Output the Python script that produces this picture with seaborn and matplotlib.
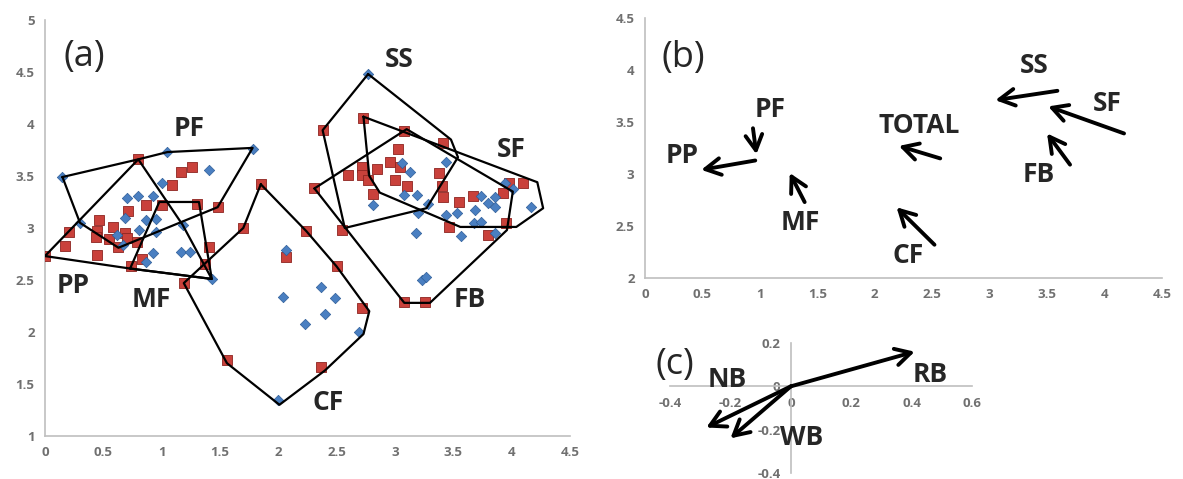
import matplotlib
matplotlib.use("Agg")
import matplotlib.pyplot as plt
import seaborn as sns
import pandas as pd

sns.set_style("white")
plt.rcParams['font.family'] = ['Open Sans', 'DejaVu Sans']
plt.rcParams['font.weight'] = 'bold'

# ---- panel (a): scores of the two groups ----
red_x = [0.00, 0.80, 1.17, 1.26, 1.09, 0.87, 1.00, 1.30, 1.48, 0.71, 0.46, 0.58,
         0.21, 0.45, 0.69, 0.55, 0.44, 0.70, 0.79, 0.63, 0.17, 0.45, 0.83, 0.74,
         1.41, 1.37, 1.19, 1.70, 1.85, 1.56, 2.07, 2.24, 2.50, 2.72, 2.37, 2.31,
         2.55, 2.81, 2.73, 2.38, 3.08, 3.41, 3.03, 2.85, 2.72, 2.96, 3.04, 2.72,
         2.60, 2.77, 3.00, 3.10, 3.38, 3.40, 3.41, 3.55, 3.67, 3.93, 3.98, 4.10,
         3.46, 3.80, 3.95, 3.08, 3.26]
red_y = [2.73, 3.66, 3.54, 3.59, 3.41, 3.22, 3.22, 3.23, 3.20, 3.16, 3.08, 3.01,
         2.96, 2.97, 2.95, 2.89, 2.91, 2.90, 2.87, 2.82, 2.83, 2.74, 2.70, 2.63,
         2.82, 2.65, 2.47, 3.00, 3.42, 1.73, 2.72, 2.97, 2.63, 2.23, 1.66, 3.38,
         2.98, 3.33, 4.06, 3.94, 3.93, 3.82, 3.76, 3.57, 3.59, 3.63, 3.59, 3.51,
         3.51, 3.46, 3.46, 3.40, 3.53, 3.40, 3.30, 3.25, 3.31, 3.34, 3.43, 3.43,
         3.01, 2.93, 3.05, 2.29, 2.29]

blue_x = [0.15, 1.05, 1.41, 1.00, 0.70, 0.80, 0.93, 0.30, 0.69, 0.87, 0.95, 0.95,
          0.62, 1.18, 0.81, 0.67, 0.93, 1.17, 1.24, 0.87, 1.43, 1.78, 2.07, 2.04,
          2.37, 2.49, 2.40, 2.23, 2.69, 2.00, 2.81, 2.77, 3.13, 3.06, 3.08, 3.19,
          3.28, 3.20, 3.18, 3.44, 3.44, 3.23, 3.27, 3.74, 3.80, 3.86, 3.86, 3.69,
          3.53, 3.68, 3.74, 3.57, 4.17, 3.94, 4.01, 3.86]
blue_y = [3.49, 3.73, 3.56, 3.43, 3.29, 3.31, 3.31, 3.05, 3.10, 3.08, 3.09, 2.96,
          2.93, 3.03, 2.98, 2.84, 2.76, 2.77, 2.77, 2.67, 2.51, 3.76, 2.79, 2.34,
          2.43, 2.33, 2.17, 2.08, 2.00, 1.35, 3.22, 4.48, 3.54, 3.62, 3.32, 3.32,
          3.23, 3.14, 2.95, 3.63, 3.12, 2.50, 2.53, 3.31, 3.24, 3.20, 3.30, 3.17,
          3.14, 3.05, 3.06, 2.92, 3.20, 3.43, 3.37, 2.95]

# outline of each group (hull corners)
hull_pp = [(0.00, 2.73), (0.80, 3.66), (1.18, 3.03), (1.43, 2.51), (0.73, 2.61)]
hull_pf = [(0.15, 3.49), (0.80, 3.66), (1.05, 3.73), (1.78, 3.77), (1.48, 3.20),
           (0.63, 2.81), (0.30, 3.05)]
hull_mf = [(0.73, 2.61), (0.98, 3.25), (1.32, 3.25), (1.43, 2.51)]
hull_cf = [(1.85, 3.42), (2.24, 2.97), (2.50, 2.63), (2.78, 2.20), (2.73, 1.98),
           (2.40, 1.63), (2.01, 1.30), (1.56, 1.70), (1.19, 2.47), (1.70, 3.00)]
hull_ss = [(2.77, 4.48), (3.48, 3.85), (3.54, 3.68), (3.27, 3.19), (2.57, 3.00),
           (2.38, 3.94)]
hull_sf = [(2.73, 4.07), (4.22, 3.44), (4.27, 3.19), (4.04, 3.01), (3.56, 3.01),
           (2.87, 3.34), (2.78, 3.50)]
hull_fb = [(2.31, 3.38), (3.10, 3.95), (4.01, 3.35), (3.96, 2.98), (3.30, 2.28),
           (3.08, 2.28)]
hulls = [hull_pp, hull_pf, hull_mf, hull_cf, hull_ss, hull_sf, hull_fb]

labels_a = ['PF', 'SS', 'SF', 'PP', 'MF', 'FB', 'CF']
label_a_x = [1.24, 3.04, 4.00, 0.24, 0.91, 3.64, 2.43]
label_a_y = [3.96, 4.62, 3.75, 2.45, 2.31, 2.31, 1.32]

# ---- panel (b): shift of each group (tail -> head) ----
names_b = ['PP', 'PF', 'MF', 'TOTAL', 'CF', 'SS', 'SF', 'FB']
tail_x = [0.96, 0.94, 1.39, 2.57, 2.52, 3.59, 4.17, 3.70]
tail_y = [3.13, 3.44, 2.73, 3.15, 2.32, 3.80, 3.39, 3.09]
head_x = [0.49, 0.97, 1.26, 2.21, 2.19, 3.05, 3.51, 3.50]
head_y = [3.04, 3.19, 3.01, 3.27, 2.68, 3.71, 3.65, 3.39]
label_b_x = [0.32, 1.09, 1.35, 2.39, 2.29, 3.39, 4.02, 3.43]
label_b_y = [3.18, 3.62, 2.53, 3.47, 2.22, 4.04, 3.68, 3.00]

# ---- panel (c): loading vectors ----
names_c = ['RB', 'NB', 'WB']
vec_x = [0.41, -0.28, -0.20]
vec_y = [0.16, -0.19, -0.24]
label_c_x = [0.46, -0.21, 0.035]
label_c_y = [0.055, 0.03, -0.235]

ticks_a_x = [0, 0.5, 1, 1.5, 2, 2.5, 3, 3.5, 4, 4.5]
ticks_a_y = [1, 1.5, 2, 2.5, 3, 3.5, 4, 4.5, 5]
ticks_b_y = [2, 2.5, 3, 3.5, 4, 4.5]
ticks_c_x = [-0.4, -0.2, 0, 0.2, 0.4, 0.6]
ticks_c_y = [-0.4, -0.2, 0, 0.2]

GRAY = '#707070'
AXIS = '#BFBFBF'


def fmt(v):
    return ('%g' % v)


def style_axis(ax, xt, yt):
    for s in ['top', 'right']:
        ax.spines[s].set_visible(False)
    for s in ['left', 'bottom']:
        ax.spines[s].set_color(AXIS)
        ax.spines[s].set_linewidth(1.2)
    ax.set_xticks(xt)
    ax.set_xticklabels([fmt(v) for v in xt])
    ax.set_yticks(yt)
    ax.set_yticklabels([fmt(v) for v in yt])
    ax.tick_params(axis='both', colors=AXIS, labelcolor=GRAY, labelsize=9.5,
                   length=4, width=1.2, direction='out')
    ax.set_xlabel('')
    ax.set_ylabel('')


fig = plt.figure(figsize=(11.83, 4.79), dpi=100)
ax_a = fig.add_axes([0.038, 0.0898, 0.4438, 0.8685])
ax_b = fig.add_axes([0.5452, 0.4196, 0.437, 0.5428])
ax_c = fig.add_axes([0.5664, 0.0125, 0.2553, 0.2714])

# panel (a)
df_red = pd.DataFrame({'x': red_x, 'y': red_y})
df_blue = pd.DataFrame({'x': blue_x, 'y': blue_y})
sns.scatterplot(data=df_red, x='x', y='y', ax=ax_a, marker='s', s=55,
                color='#C9413B', edgecolor='#8E2420', linewidth=0.6, zorder=3)
sns.scatterplot(data=df_blue, x='x', y='y', ax=ax_a, marker='D', s=28,
                color='#4A7FC1', edgecolor='#2E5E99', linewidth=0.5, zorder=4)
for hull in hulls:
    xs = [p[0] for p in hull] + [hull[0][0]]
    ys = [p[1] for p in hull] + [hull[0][1]]
    ax_a.plot(xs, ys, color='black', lw=1.6, zorder=5)
for t, x, y in zip(labels_a, label_a_x, label_a_y):
    ax_a.text(x, y, t, ha='center', va='center', fontsize=19, fontweight='bold')
ax_a.text(0.34, 4.64, '(a)', ha='center', va='center', fontsize=26,
          fontweight='normal')
ax_a.set_xlim(0, 4.5)
ax_a.set_ylim(1, 5)
style_axis(ax_a, ticks_a_x, ticks_a_y)

# panel (b)
arrow_kw = dict(arrowstyle='->,head_length=0.55,head_width=0.3', lw=2.8,
                color='black', mutation_scale=20, shrinkA=0, shrinkB=0)
for tx, ty, hx, hy in zip(tail_x, tail_y, head_x, head_y):
    ax_b.annotate('', xy=(hx, hy), xytext=(tx, ty), arrowprops=arrow_kw)
for t, x, y in zip(names_b, label_b_x, label_b_y):
    ax_b.text(x, y, t, ha='center', va='center', fontsize=19, fontweight='bold')
ax_b.text(0.33, 4.12, '(b)', ha='center', va='center', fontsize=26,
          fontweight='normal')
ax_b.set_xlim(0, 4.5)
ax_b.set_ylim(2, 4.5)
style_axis(ax_b, ticks_a_x, ticks_b_y)

# panel (c)
for vx, vy in zip(vec_x, vec_y):
    ax_c.annotate('', xy=(vx, vy), xytext=(0, 0), arrowprops=arrow_kw)
for t, x, y in zip(names_c, label_c_x, label_c_y):
    ax_c.text(x, y, t, ha='center', va='center', fontsize=19, fontweight='bold')
ax_c.text(-0.385, 0.10, '(c)', ha='center', va='center', fontsize=26,
          fontweight='normal')
ax_c.set_xlim(-0.4, 0.6)
ax_c.set_ylim(-0.4, 0.2)
style_axis(ax_c, ticks_c_x, ticks_c_y)
ax_c.spines['left'].set_position(('data', 0))
ax_c.spines['bottom'].set_position(('data', 0))
ax_c.patch.set_alpha(0)

fig.savefig('out.png', dpi=100)
